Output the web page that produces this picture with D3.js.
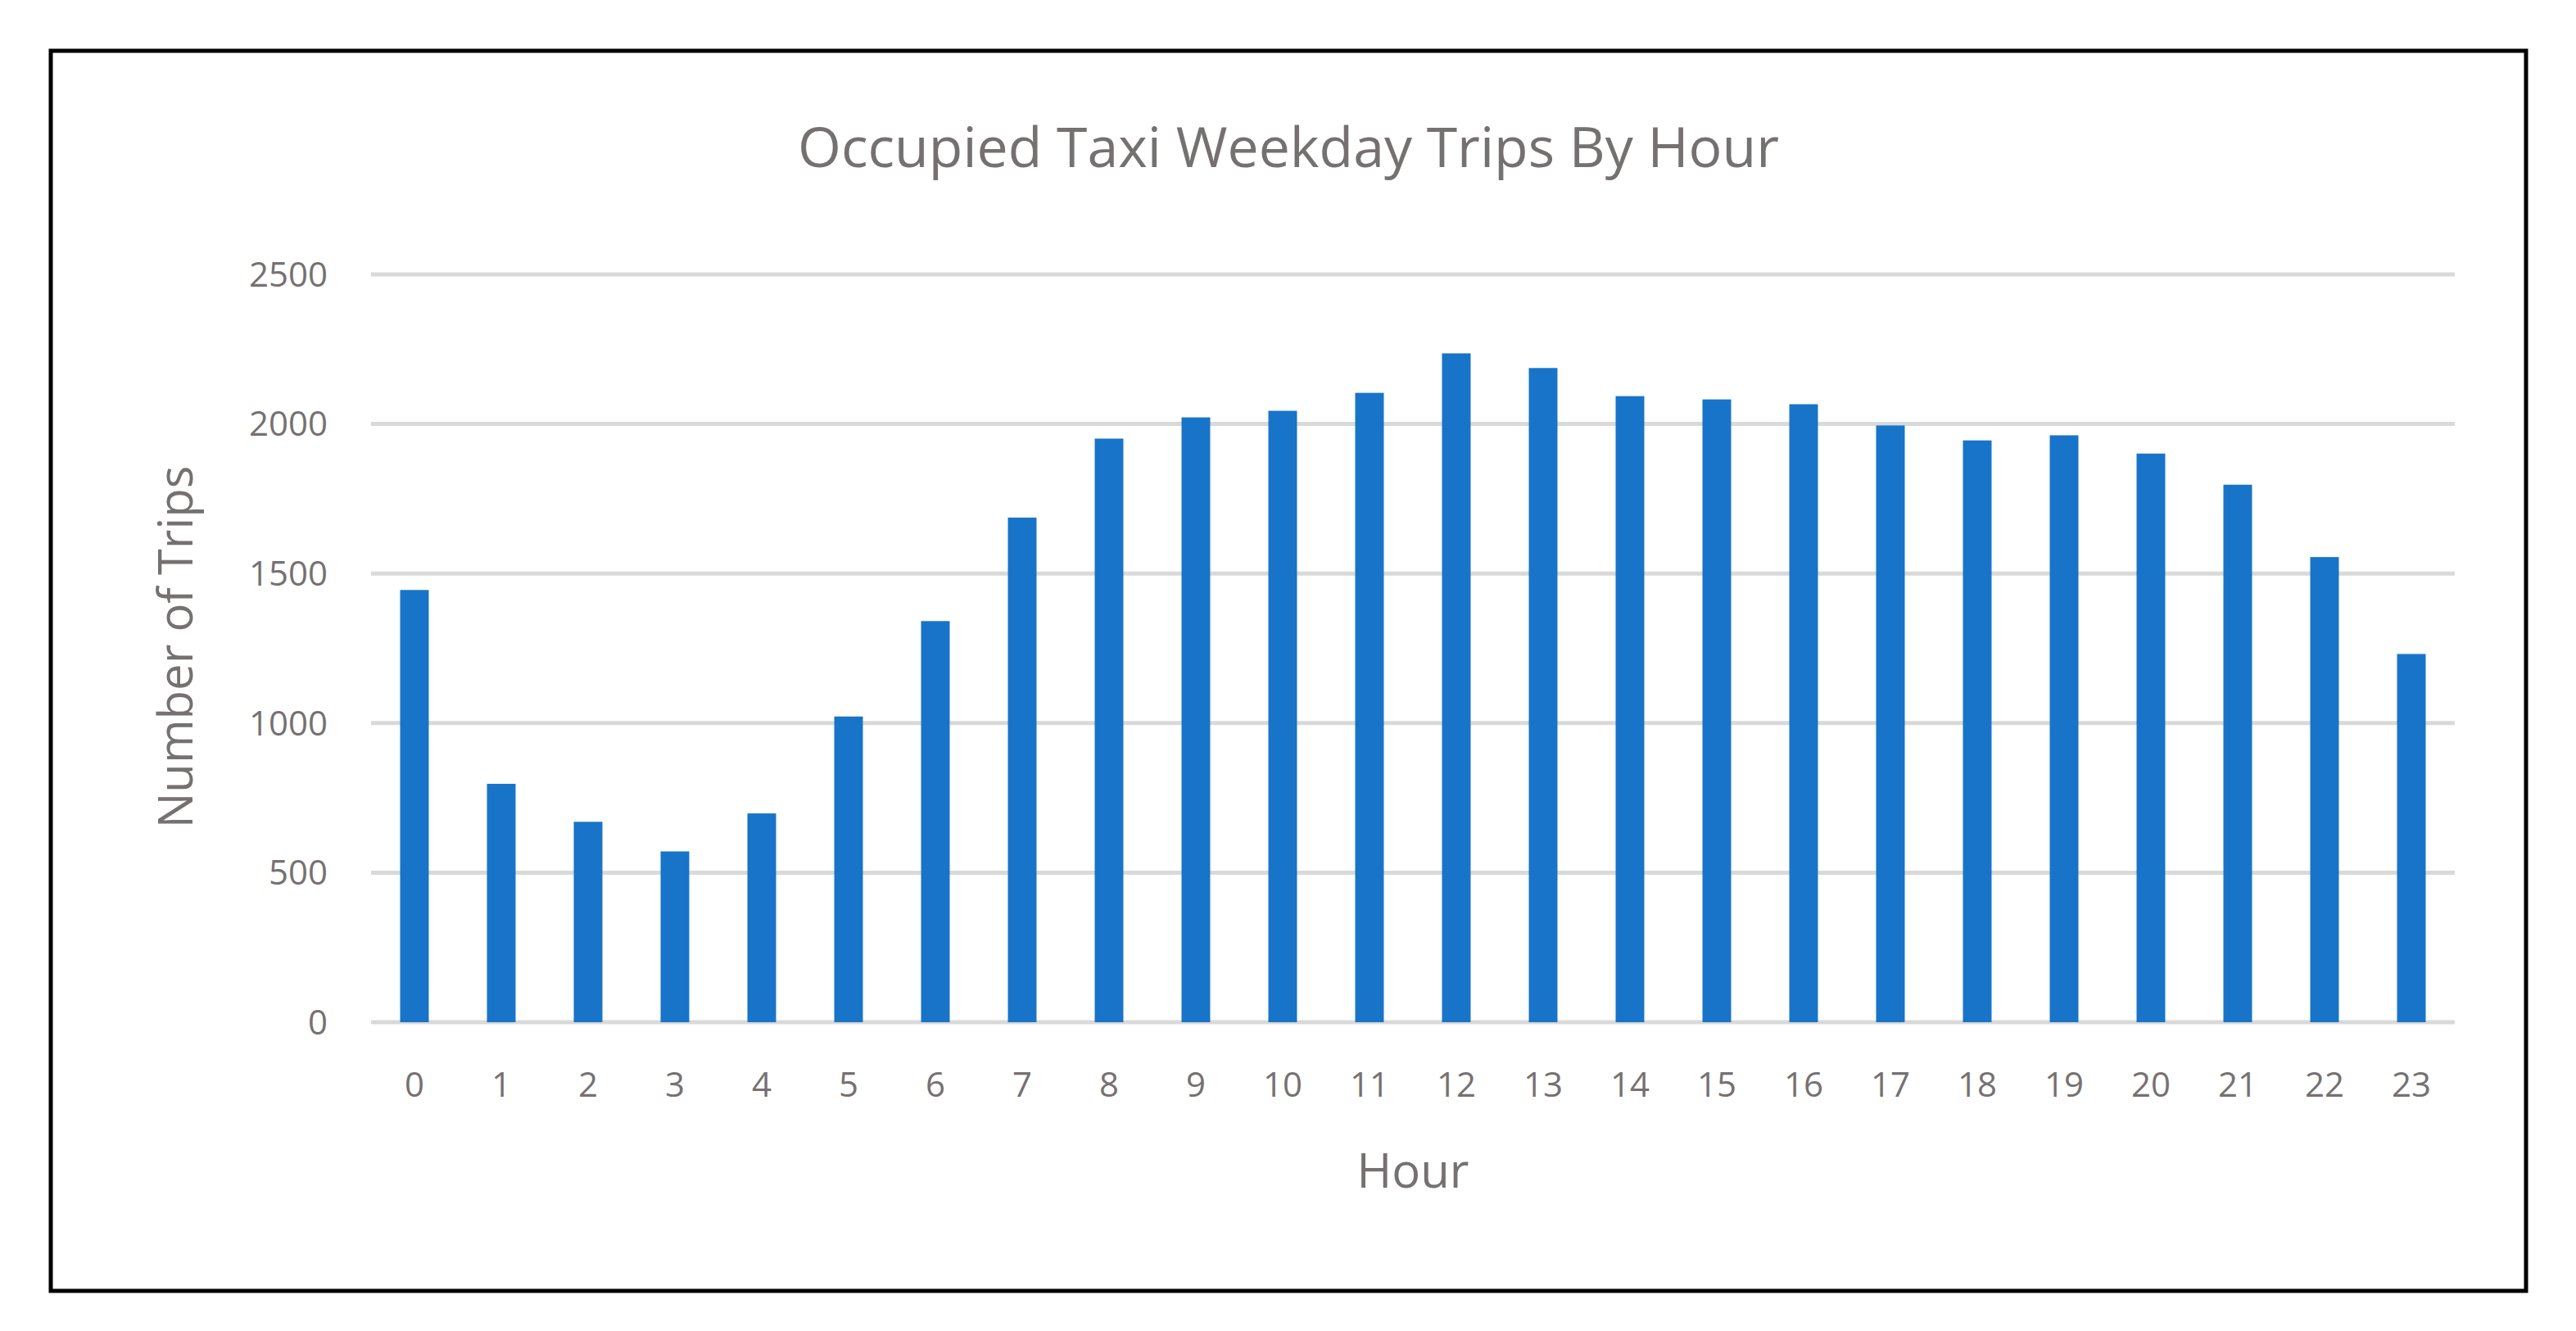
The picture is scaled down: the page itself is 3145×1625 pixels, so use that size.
<!DOCTYPE html><html><head><meta charset="utf-8">
<script src="https://cdn.jsdelivr.net/npm/d3@7"></script>
<style>body{margin:0;background:#fff}</style></head><body>
<svg id="c" width="3145" height="1625"></svg>
<script>
const hours=d3.range(24).map(String);
const trips=[1445,797,670,571,698,1022,1341,1687,1951,2022,2044,2104,2236,2187,2093,2082,2066,1995,1945,1962,1901,1797,1555,1231];
const yTicks=[0,500,1000,1500,2000,2500];
const svg=d3.select("#c");
const F="Open Sans, Liberation Sans, sans-serif", TC="#767171";
svg.append("rect").attr("x",62).attr("y",62).attr("width",3022).attr("height",1514).attr("fill","#fff").attr("stroke","#000").attr("stroke-width",5);
const x=d3.scaleBand().domain(hours).range([453,2997]).paddingInner(0.67).paddingOuter(0.335);
const y=d3.scaleLinear().domain([0,2500]).range([1248,335]);
svg.append("g").selectAll("line").data(yTicks).join("line").attr("x1",453).attr("x2",2997).attr("y1",d=>y(d)).attr("y2",d=>y(d)).attr("stroke","#d9d9d9").attr("stroke-width",5);
svg.append("g").selectAll("rect").data(trips).join("rect").attr("x",(d,i)=>x(hours[i])).attr("width",x.bandwidth()).attr("y",d=>y(d)).attr("height",d=>y(0)-y(d)).attr("fill","#1874C8");
svg.append("g").selectAll("text").data(yTicks).join("text").attr("x",400).attr("y",d=>y(d)).attr("dy","0.35em").attr("text-anchor","end").attr("font-family",F).attr("font-size",42).attr("fill",TC).text(d=>d);
svg.append("g").selectAll("text").data(hours).join("text").attr("x",d=>x(d)+x.bandwidth()/2).attr("y",1324).attr("dy","0.35em").attr("text-anchor","middle").attr("font-family",F).attr("font-size",42).attr("fill",TC).text(d=>d);
svg.append("text").attr("x",1573).attr("y",180).attr("dy","0.35em").attr("text-anchor","middle").attr("font-family",F).attr("font-size",68).attr("fill",TC).text("Occupied Taxi Weekday Trips By Hour");
svg.append("text").attr("x",1725).attr("y",1430).attr("dy","0.35em").attr("text-anchor","middle").attr("font-family",F).attr("font-size",58).attr("fill",TC).text("Hour");
svg.append("text").attr("transform","translate(215,790) rotate(-90)").attr("dy","0.35em").attr("text-anchor","middle").attr("font-family",F).attr("font-size",58).attr("fill",TC).text("Number of Trips");
</script></body></html>
